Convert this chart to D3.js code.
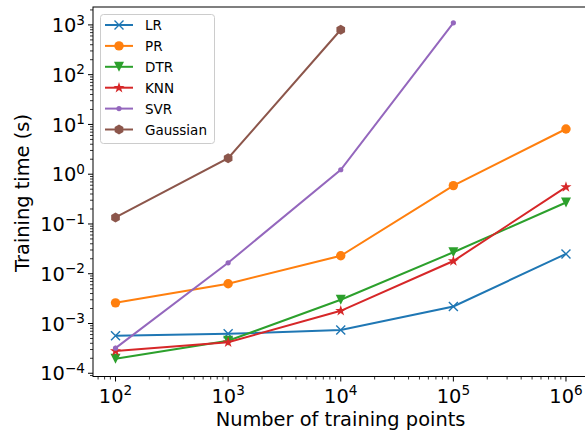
<!DOCTYPE html>
<html>
<head>
<meta charset="utf-8">
<script src="https://cdn.jsdelivr.net/npm/d3@7"></script>
<style>
  body { margin: 0; background: #fff; }
  svg { font-family: "DejaVu Sans", sans-serif; }
</style>
</head>
<body>
<svg id="chart" width="585" height="432"></svg>
<script>
// x positions (number of training points)
const trainSizes = [1e2, 1e3, 1e4, 1e5, 1e6];

// training time in seconds
const lrTimes = [5.7e-4, 6.2e-4, 7.4e-4, 2.2e-3, 0.025];
const prTimes = [2.6e-3, 6.3e-3, 0.023, 0.59, 8.1];
const dtrTimes = [1.95e-4, 4.5e-4, 3.0e-3, 0.027, 0.27];
const knnTimes = [2.8e-4, 4.2e-4, 1.8e-3, 0.018, 0.55];
const svrTimes = [3.2e-4, 0.0166, 1.23, 1100];
const gaussTimes = [0.135, 2.1, 800];

const seriesNames = ["LR", "PR", "DTR", "KNN", "SVR", "Gaussian"];
const seriesColors = ["#1f77b4", "#ff7f0e", "#2ca02c", "#d62728", "#9467bd", "#8c564b"];
const seriesMarkers = ["x", "o", "v", "star", "dot", "hex"];
const seriesValues = [lrTimes, prTimes, dtrTimes, knnTimes, svrTimes, gaussTimes];

const xTickExps = [2, 3, 4, 5, 6];
const yTickExps = [-4, -3, -2, -1, 0, 1, 2, 3];

const svg = d3.select("#chart");
const margin = { left: 93, top: 7, right: 588.5, bottom: 376.5 };

const x = d3.scaleLog().domain([Math.pow(10, 1.8), Math.pow(10, 6.2)]).range([margin.left, margin.right]);
const y = d3.scaleLog().domain([Math.pow(10, -4.065), Math.pow(10, 3.36)]).range([margin.bottom, margin.top]);

// ticks (major + minor), drawn outward
function minorValues(lo, hi) {
    const out = [];
    for (let e = lo; e <= hi; e++) {
        for (let m = 2; m <= 9; m++) out.push(m * Math.pow(10, e));
    }
    return out;
}
const axisG = svg.append("g").attr("stroke", "#000");

const xMinor = minorValues(1, 6).filter(v => v >= x.domain()[0] && v <= x.domain()[1]);
const yMinor = minorValues(-5, 3).filter(v => v >= y.domain()[0] && v <= y.domain()[1]);

axisG.selectAll(".xminor").data(xMinor).enter().append("line")
    .attr("x1", d => x(d)).attr("x2", d => x(d))
    .attr("y1", margin.bottom).attr("y2", margin.bottom + 3)
    .attr("stroke-width", 0.8);
axisG.selectAll(".xmajor").data(xTickExps).enter().append("line")
    .attr("x1", d => x(Math.pow(10, d))).attr("x2", d => x(Math.pow(10, d)))
    .attr("y1", margin.bottom).attr("y2", margin.bottom + 5)
    .attr("stroke-width", 1);
axisG.selectAll(".yminor").data(yMinor).enter().append("line")
    .attr("y1", d => y(d)).attr("y2", d => y(d))
    .attr("x1", margin.left).attr("x2", margin.left - 3)
    .attr("stroke-width", 0.8);
axisG.selectAll(".ymajor").data(yTickExps).enter().append("line")
    .attr("y1", d => y(Math.pow(10, d))).attr("y2", d => y(Math.pow(10, d)))
    .attr("x1", margin.left).attr("x2", margin.left - 5)
    .attr("stroke-width", 1);

// tick labels with superscript exponent
function powLabel(sel, e) {
    sel.append("tspan").text("10");
    sel.append("tspan").attr("dy", -7.5).style("font-size", "13.6px").text(e < 0 ? "\u2212" + (-e) : e);
}
xTickExps.forEach(e => {
    const t = svg.append("text")
        .attr("x", x(Math.pow(10, e)))
        .attr("y", 402.5)
        .attr("text-anchor", "middle")
        .style("font-size", "19.4px");
    powLabel(t, e);
});
yTickExps.forEach(e => {
    const t = svg.append("text")
        .attr("x", margin.left - 8)
        .attr("y", y(Math.pow(10, e)) + 7.2)
        .attr("text-anchor", "end")
        .style("font-size", "19.4px");
    powLabel(t, e);
});

svg.append("text")
    .attr("x", 340.5)
    .attr("y", 425.5)
    .attr("text-anchor", "middle")
    .style("font-size", "19.4px")
    .text("Number of training points");

svg.append("text")
    .attr("transform", "translate(29,193) rotate(-90)")
    .attr("text-anchor", "middle")
    .style("font-size", "19.4px")
    .text("Training time (s)");

// markers
function drawMarker(g, kind, cx, cy, color) {
    if (kind === "x") {
        const s = 4.5;
        g.append("path")
            .attr("d", `M${cx - s},${cy - s}L${cx + s},${cy + s}M${cx - s},${cy + s}L${cx + s},${cy - s}`)
            .attr("stroke", color).attr("stroke-width", 1.4).attr("fill", "none");
    } else if (kind === "o") {
        g.append("circle").attr("cx", cx).attr("cy", cy).attr("r", 4.7).attr("fill", color);
    } else if (kind === "v") {
        const s = 5;
        g.append("path")
            .attr("d", `M${cx - s},${cy - s}L${cx + s},${cy - s}L${cx},${cy + s}Z`)
            .attr("fill", color);
    } else if (kind === "star") {
        g.append("path")
            .attr("d", d3.symbol().type(d3.symbolStar).size(38)())
            .attr("transform", `translate(${cx},${cy})`)
            .attr("fill", color);
    } else if (kind === "dot") {
        g.append("circle").attr("cx", cx).attr("cy", cy).attr("r", 2.6).attr("fill", color);
    } else if (kind === "hex") {
        const r = 5;
        const pts = d3.range(6).map(i => {
            const a = Math.PI / 2 + i * Math.PI / 3;
            return [cx + r * Math.cos(a), cy - r * Math.sin(a)];
        });
        g.append("path").attr("d", "M" + pts.join("L") + "Z").attr("fill", color);
    }
}

const line = d3.line().x(d => x(d[0])).y(d => y(d[1]));
const plotG = svg.append("g");

seriesValues.forEach((vals, i) => {
    const pts = vals.map((v, j) => [trainSizes[j], v]);
    plotG.append("path")
        .datum(pts)
        .attr("d", line)
        .attr("fill", "none")
        .attr("stroke", seriesColors[i])
        .attr("stroke-width", 2);
    pts.forEach(p => drawMarker(plotG, seriesMarkers[i], x(p[0]), y(p[1]), seriesColors[i]));
});

// spines
svg.append("rect")
    .attr("x", margin.left).attr("y", margin.top)
    .attr("width", margin.right - margin.left).attr("height", margin.bottom - margin.top)
    .attr("fill", "none").attr("stroke", "#000").attr("stroke-width", 1);

// legend
const legend = svg.append("g");
legend.append("rect")
    .attr("x", 100.5).attr("y", 14.5).attr("width", 114).attr("height", 129).attr("rx", 3)
    .attr("fill", "rgba(255,255,255,0.8)").attr("stroke", "#ccc").attr("stroke-width", 1);
seriesNames.forEach((name, i) => {
    const ly = 25 + i * 20.9;
    legend.append("line")
        .attr("x1", 105).attr("x2", 133).attr("y1", ly).attr("y2", ly)
        .attr("stroke", seriesColors[i]).attr("stroke-width", 2);
    drawMarker(legend, seriesMarkers[i], 119, ly, seriesColors[i]);
    legend.append("text")
        .attr("x", 145).attr("y", ly + 5)
        .style("font-size", "13.5px")
        .text(name);
});
</script>
</body>
</html>
